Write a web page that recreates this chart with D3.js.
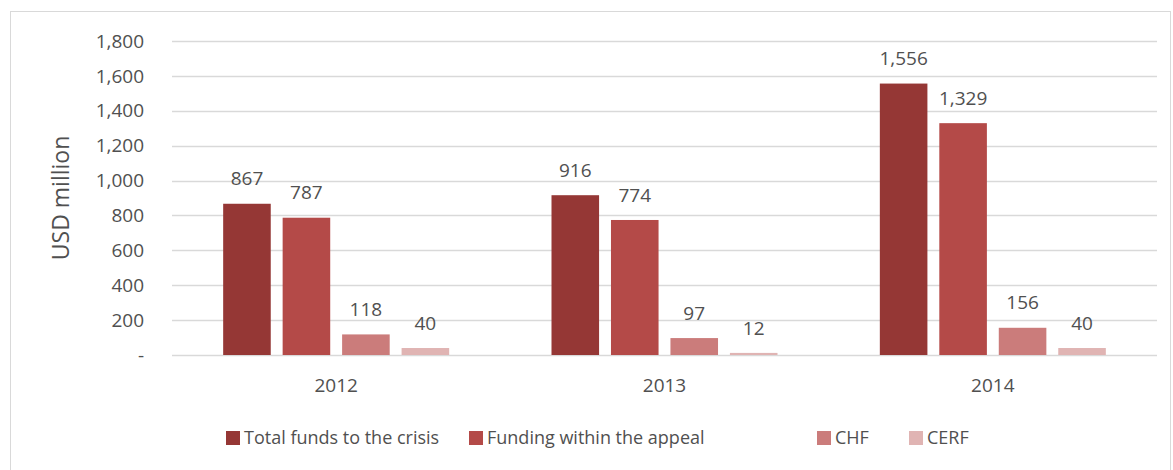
<!DOCTYPE html>
<html lang="en">
<head>
<meta charset="utf-8">
<title>Funding chart</title>
<script src="https://d3js.org/d3.v7.min.js"></script>
<style>
    body { margin: 0; background: #fff; }
    text { font-family: "Open Sans", sans-serif; fill: #505050; }
</style>
</head>
<body>
<svg id="chart" width="1173" height="470"></svg>
<script>
    const years = ["2012", "2013", "2014"];
    const seriesNames = ["Total funds to the crisis", "Funding within the appeal", "CHF", "CERF"];
    const totalFunds = [867, 916, 1556];
    const withinAppeal = [787, 774, 1329];
    const chf = [118, 97, 156];
    const cerf = [40, 12, 40];
    const yTicks = [0, 200, 400, 600, 800, 1000, 1200, 1400, 1600, 1800];
    const colors = ["#953735", "#b44a48", "#cb7c7b", "#e0b4b3"];

    const seriesValues = [totalFunds, withinAppeal, chf, cerf];

    const svg = d3.select("#chart");
    const margin = {left: 172, right: 16, top: 41, bottom: 115};
    const width = 1173, height = 470;
    const fs = 19;

    // outer frame
    svg.append("rect")
        .attr("x", 10.5).attr("y", 11.5)
        .attr("width", 1160).attr("height", 470)
        .attr("fill", "none").attr("stroke", "#d9d9d9").attr("stroke-width", 1);

    const x = d3.scaleBand().domain(years).range([margin.left, width - margin.right]);
    const x1 = d3.scaleBand().domain(d3.range(4)).range([0, 226]).paddingInner(0.2);
    const y = d3.scaleLinear().domain([0, 1800]).range([height - margin.bottom, margin.top]);

    // gridlines
    svg.append("g").selectAll("line").data(yTicks).join("line")
        .attr("x1", margin.left).attr("x2", width - margin.right)
        .attr("y1", d => Math.round(y(d)) + 0.5).attr("y2", d => Math.round(y(d)) + 0.5)
        .attr("stroke", "#d9d9d9").attr("stroke-width", 1.5);

    // y tick labels
    svg.append("g").selectAll("text").data(yTicks).join("text")
        .attr("x", 144).attr("y", d => y(d)).attr("dy", "0.35em")
        .attr("text-anchor", "end").attr("font-size", fs)
        .text(d => d === 0 ? "-" : d3.format(",")(d));

    svg.append("text")
        .attr("transform", `translate(61,${(y(0) + y(1800)) / 2}) rotate(-90)`)
        .attr("text-anchor", "middle").attr("dy", "0.35em").attr("font-size", 23)
        .text("USD million");

    // bars
    const groups = svg.append("g").selectAll("g").data(years).join("g")
        .attr("transform", d => `translate(${x(d) + x.bandwidth() / 2 - 113},0)`);

    groups.selectAll("rect").data((d, i) => seriesValues.map((s, k) => ({k, v: s[i]}))).join("rect")
        .attr("x", d => x1(d.k)).attr("width", x1.bandwidth())
        .attr("y", d => y(d.v)).attr("height", d => y(0) - y(d.v))
        .attr("fill", d => colors[d.k]);

    groups.selectAll("text").data((d, i) => seriesValues.map((s, k) => ({k, v: s[i]}))).join("text")
        .attr("x", d => x1(d.k) + x1.bandwidth() / 2).attr("y", d => y(d.v) - 25)
        .attr("dy", "0.35em").attr("text-anchor", "middle").attr("font-size", fs)
        .text(d => d3.format(",")(d.v));

    // category labels
    svg.append("g").selectAll("text").data(years).join("text")
        .attr("x", d => x(d) + x.bandwidth() / 2).attr("y", 385).attr("dy", "0.35em")
        .attr("text-anchor", "middle").attr("font-size", fs)
        .text(d => d);

    // legend
    const legendX = [226, 469, 817, 909];
    const legend = svg.append("g").selectAll("g").data(seriesNames).join("g")
        .attr("transform", (d, i) => `translate(${legendX[i]},438)`);
    legend.append("rect").attr("x", 0).attr("y", -7).attr("width", 14).attr("height", 14)
        .attr("fill", (d, i) => colors[i]);
    legend.append("text").attr("x", 18).attr("dy", "0.35em").attr("font-size", 18)
        .text(d => d);
</script>
</body>
</html>
